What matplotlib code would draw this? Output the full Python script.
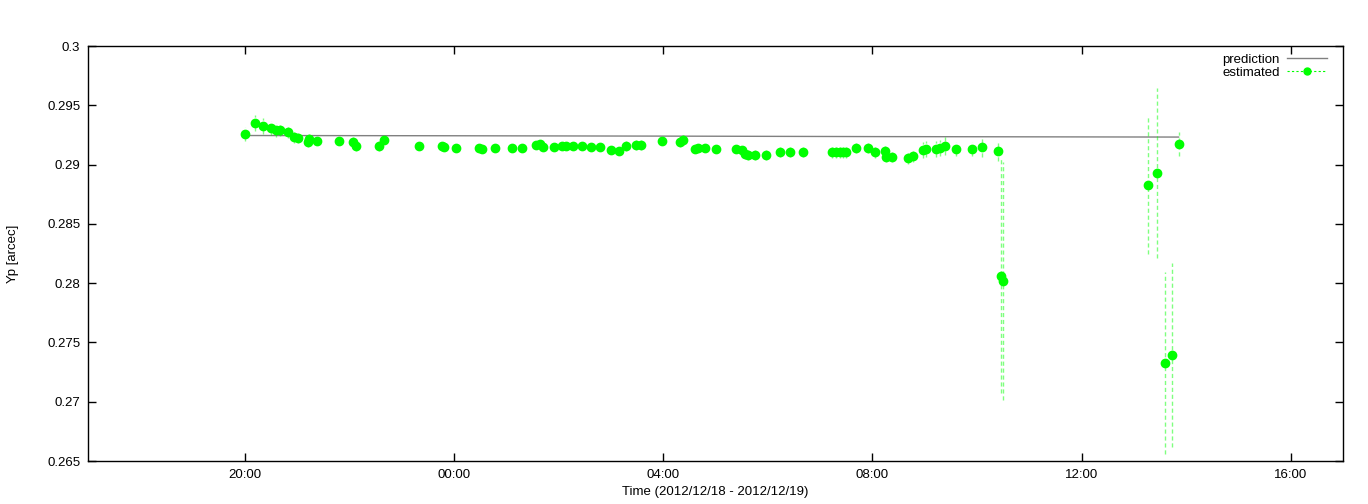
import datetime as dt
import numpy as np
import matplotlib
matplotlib.use("Agg")
import matplotlib.pyplot as plt
import matplotlib.dates as mdates

plt.rcParams["font.family"] = ["Liberation Sans", "DejaVu Sans"]

# hours since 2012-12-18 00:00
est_hours = [20.000, 20.191, 20.344, 20.498, 20.593, 20.670, 20.823, 20.938, 21.014, 21.206,
             21.225, 21.378, 21.799, 22.067, 22.124, 22.565, 22.660, 23.330, 23.770, 23.809,
             24.038, 24.478, 24.536, 24.785, 25.110, 25.301, 25.569, 25.646, 25.703, 25.914,
             26.067, 26.144, 26.278, 26.450, 26.622, 26.794, 27.005, 27.158, 27.292, 27.483,
             27.579, 27.981, 28.325, 28.383, 28.612, 28.670, 28.804, 29.014, 29.397, 29.512,
             29.569, 29.627, 29.761, 29.971, 30.239, 30.431, 30.679, 31.234, 31.311, 31.388,
             31.445, 31.502, 31.694, 31.923, 32.057, 32.249, 32.268, 32.383, 32.689, 32.785,
             32.976, 33.033, 33.225, 33.301, 33.397, 33.608, 33.914, 34.105, 34.411, 34.469,
             34.507, 37.263, 37.435, 37.589, 37.722, 37.856]
est_yp = [0.29258, 0.29351, 0.29325, 0.29308, 0.29292, 0.29292, 0.29275, 0.29233, 0.29224, 0.29190,
          0.29216, 0.29199, 0.29199, 0.29190, 0.29157, 0.29157, 0.29207, 0.29157, 0.29157, 0.29148,
          0.29140, 0.29140, 0.29131, 0.29140, 0.29140, 0.29140, 0.29165, 0.29173, 0.29148, 0.29148,
          0.29157, 0.29157, 0.29157, 0.29157, 0.29148, 0.29148, 0.29123, 0.29114, 0.29157, 0.29165,
          0.29165, 0.29199, 0.29190, 0.29207, 0.29131, 0.29140, 0.29140, 0.29131, 0.29131, 0.29123,
          0.29089, 0.29081, 0.29081, 0.29081, 0.29106, 0.29106, 0.29106, 0.29106, 0.29106, 0.29106,
          0.29106, 0.29106, 0.29140, 0.29140, 0.29106, 0.29114, 0.29064, 0.29064, 0.29055, 0.29072,
          0.29123, 0.29131, 0.29131, 0.29140, 0.29157, 0.29131, 0.29131, 0.29148, 0.29114, 0.28060,
          0.28018, 0.28828, 0.28929, 0.27326, 0.27394, 0.29173]
est_err = [0.0006, 0.0007, 0.0007, 0.0006, 0.0006, 0.0005, 0.0005, 0.0005, 0.0004, 0.0004,
           0.0004, 0.0003, 0.0003, 0.0004, 0.0004, 0.0004, 0.0003, 0.0003, 0.0003, 0.0003,
           0.0003, 0.0003, 0.0003, 0.0003, 0.0003, 0.0003, 0.0003, 0.0003, 0.0003, 0.0003,
           0.0003, 0.0003, 0.0003, 0.0003, 0.0003, 0.0003, 0.0003, 0.0003, 0.0004, 0.0004,
           0.0004, 0.0003, 0.0004, 0.0004, 0.0003, 0.0003, 0.0003, 0.0003, 0.0003, 0.0003,
           0.0004, 0.0004, 0.0004, 0.0004, 0.0004, 0.0004, 0.0004, 0.0005, 0.0005, 0.0005,
           0.0005, 0.0005, 0.0004, 0.0004, 0.0005, 0.0005, 0.0004, 0.0004, 0.0005, 0.0005,
           0.0007, 0.0007, 0.0007, 0.0007, 0.0008, 0.0006, 0.0006, 0.0008, 0.0008, 0.0099,
           0.0100, 0.0058, 0.0072, 0.0077, 0.0078, 0.0010]

pred_hours = [20.0, 24.0, 28.0, 32.0, 37.856]
pred_yp = [0.29245, 0.29243, 0.29240, 0.29236, 0.29232]

base = dt.datetime(2012, 12, 18)


def to_dates(hours):
    return [base + dt.timedelta(hours=h) for h in hours]


fig = plt.figure(figsize=(13.68, 5.04), dpi=100)
ax = fig.add_axes([88 / 1368, 1 - 461 / 504, (1343 - 88) / 1368, (461 - 46) / 504])

ax.plot(to_dates(pred_hours), pred_yp, color="#808080", lw=1, label="prediction")

eb = ax.errorbar(to_dates(est_hours), est_yp, yerr=est_err, fmt="o", color="#00ff00",
                 ms=6, mec="#00ff00", ecolor="#00ff00", elinewidth=1, capsize=0,
                 zorder=3)
eb[2][0].set_linestyle((0, (3, 2)))
eb[2][0].set_alpha(0.5)

# legend handle for estimated
ax.plot([], [], color="#00ff00", ls=(0, (2, 2)), lw=0.8, marker="o", ms=5,
        label="estimated")

ax.set_xlim(base + dt.timedelta(hours=17), base + dt.timedelta(hours=41))
ax.set_ylim(0.265, 0.3)
ax.xaxis.set_major_locator(mdates.HourLocator(byhour=[0, 4, 8, 12, 16, 20]))
ax.xaxis.set_major_formatter(mdates.DateFormatter("%H:%M"))
ax.set_yticks(np.arange(0.265, 0.3001, 0.005))
ax.set_yticklabels(["0.265", "0.27", "0.275", "0.28", "0.285", "0.29", "0.295", "0.3"])

ax.tick_params(direction="in", top=True, right=True, length=6, width=1,
               labelsize=9.5, pad=5.5)
for s in ax.spines.values():
    s.set_linewidth(1)

ax.set_xlabel("Time (2012/12/18 - 2012/12/19)", fontsize=9.5, labelpad=4)
ax.set_ylabel("Yp [arcec]", fontsize=9.5, labelpad=20)

handles, labels = ax.get_legend_handles_labels()
ax.legend([handles[0], handles[-1]], [labels[0], labels[-1]], loc="upper right",
          bbox_to_anchor=(0.9873, 0.982), markerfirst=False, frameon=False,
          fontsize=9.5, handlelength=3, borderaxespad=0, borderpad=0,
          labelspacing=0.05, handletextpad=0.6)

fig.savefig("out.png", dpi=100)
